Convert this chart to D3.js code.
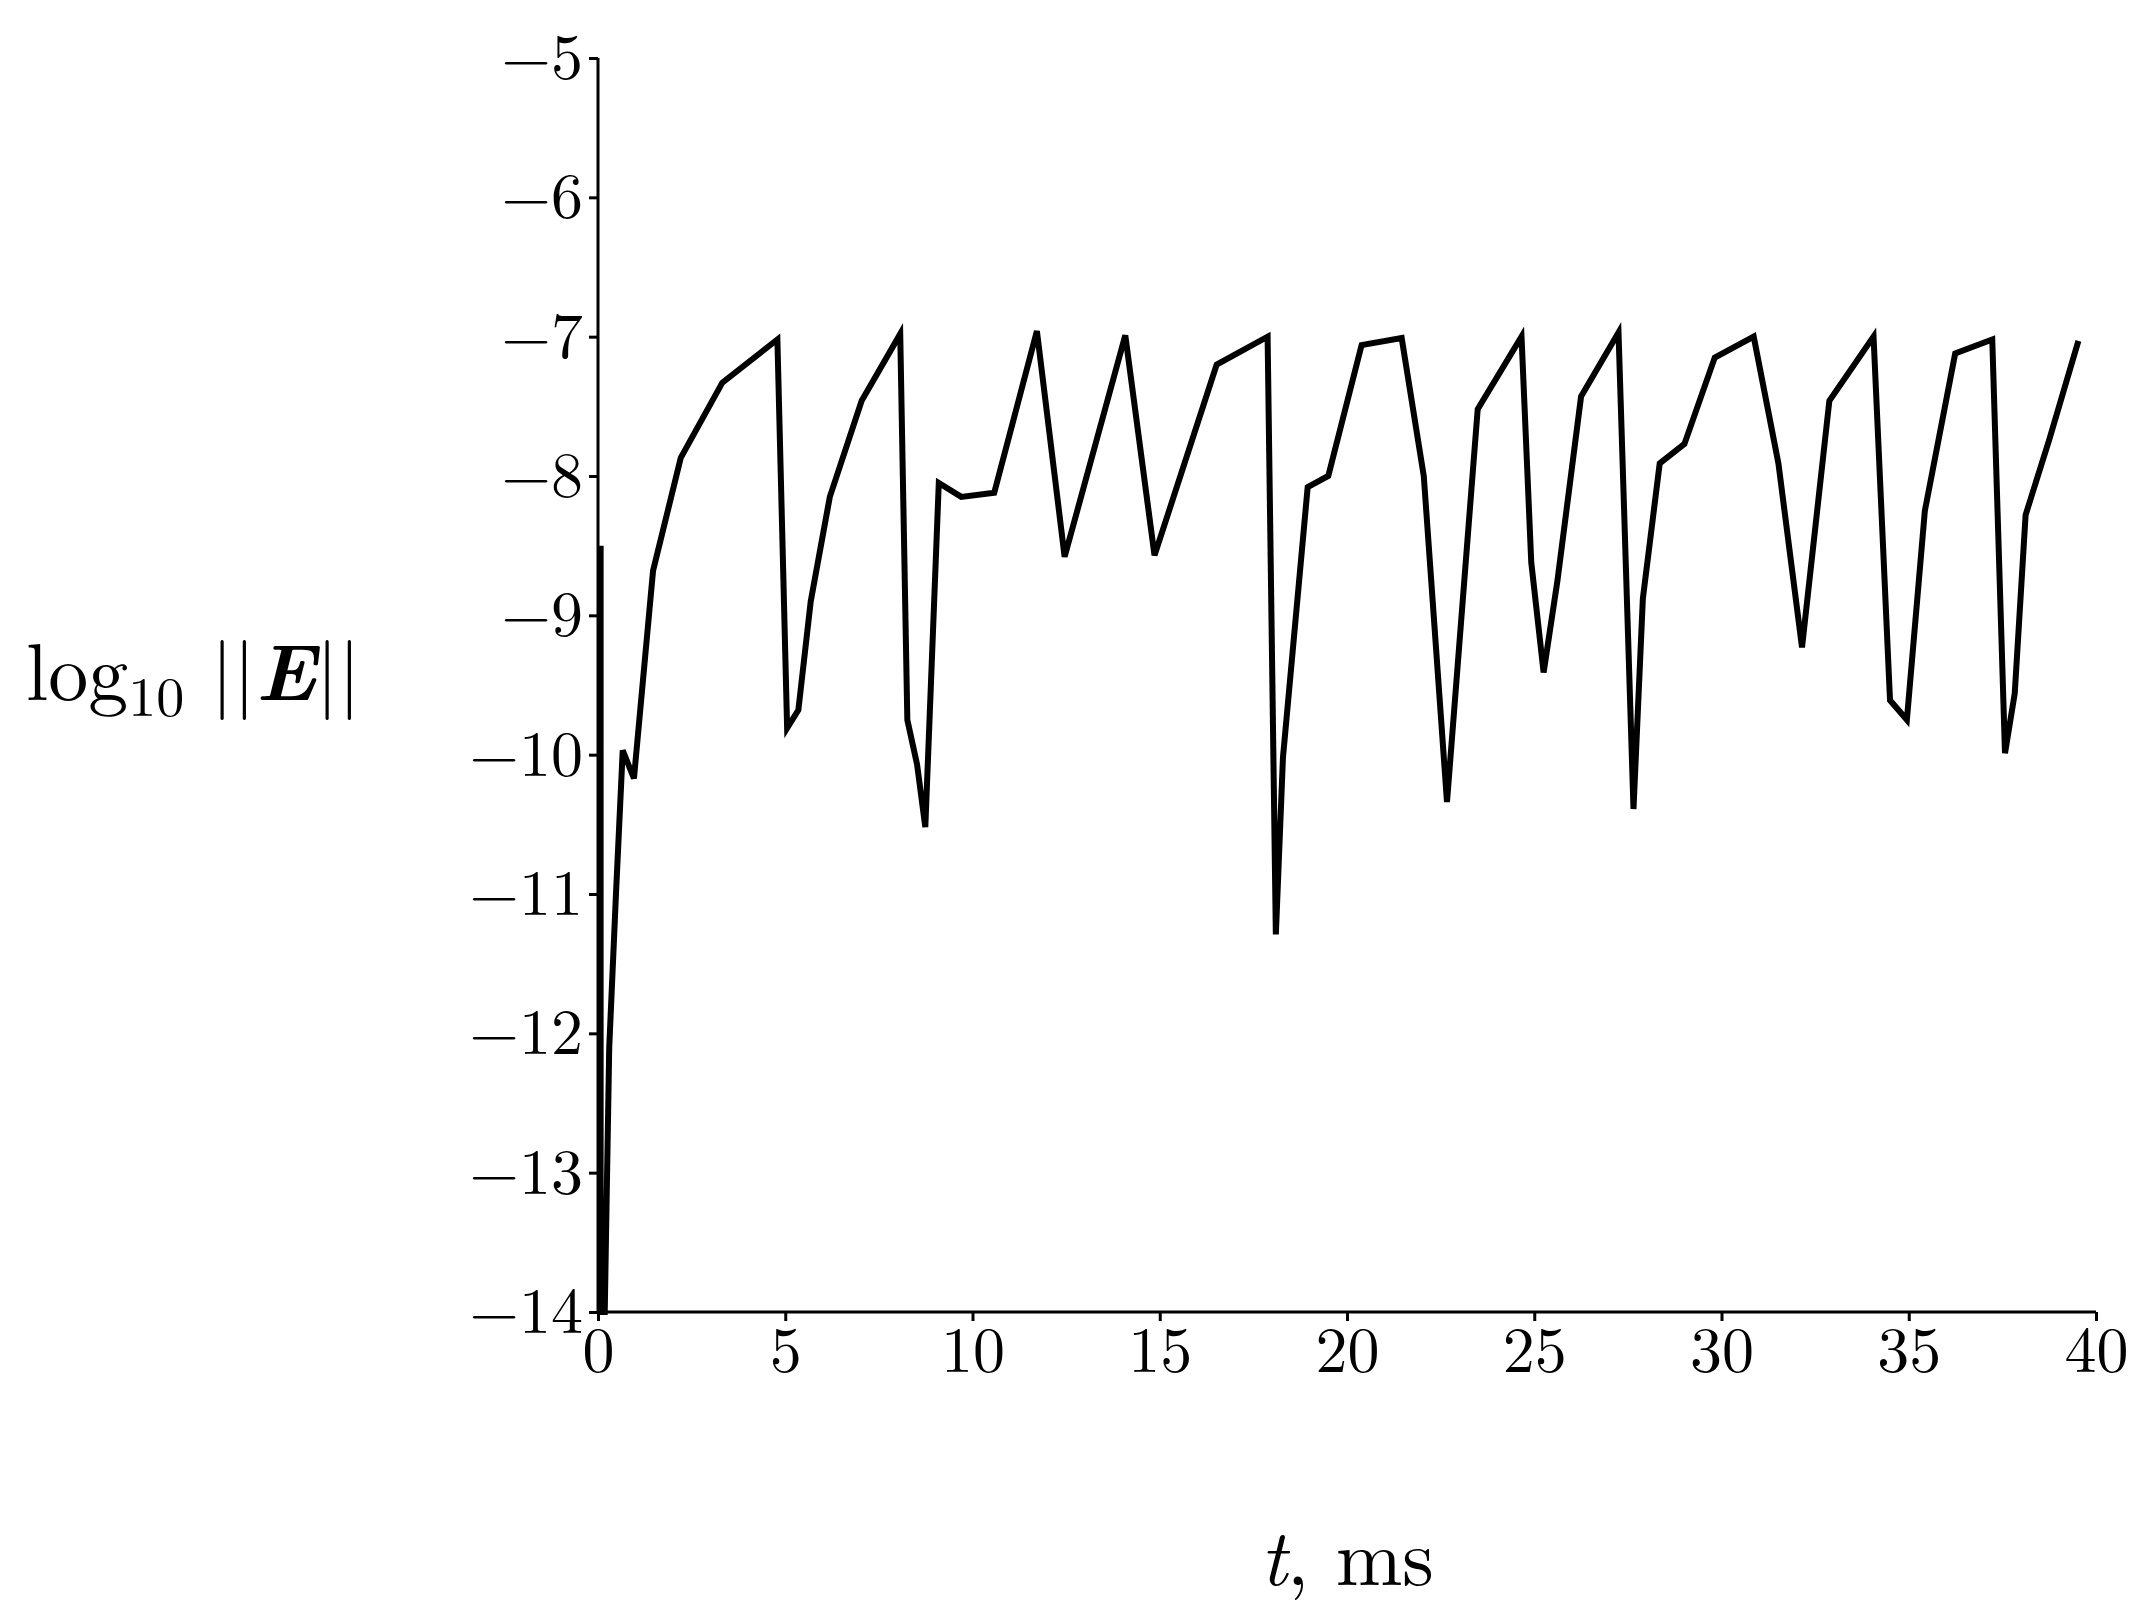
<!DOCTYPE html>
<html><head><meta charset="utf-8">
<script src="https://cdn.jsdelivr.net/npm/d3@7"></script>
<style>body{margin:0;background:#fff}</style></head>
<body><svg id="c" width="2156" height="1624"></svg>
<script>
const tVals=[0.07,0.07,0.18,0.3,0.48,0.66,0.96,1.47,2.21,3.32,4.79,5.05,5.35,5.68,6.19,7.04,8.07,8.26,8.52,8.74,9.1,9.7,10.58,11.72,12.46,14.08,14.86,16.52,17.88,18.1,18.29,18.95,19.5,20.39,21.46,22.05,22.67,23.49,24.66,24.92,25.25,25.62,26.25,27.25,27.65,27.9,28.35,29.01,29.82,30.86,31.52,32.15,32.88,34.06,34.5,34.95,35.43,36.24,37.23,37.57,37.83,38.12,38.75,39.53];
const eVals=[-8.5,-14,-14,-12.1,-11.0,-9.97,-10.17,-8.68,-7.87,-7.33,-7.02,-9.81,-9.68,-8.9,-8.15,-7.46,-6.98,-9.75,-10.07,-10.52,-8.05,-8.15,-8.12,-6.96,-8.58,-6.99,-8.57,-7.2,-7.0,-11.29,-10.02,-8.08,-8.0,-7.06,-7.01,-8.0,-10.34,-7.52,-7.0,-8.62,-9.41,-8.75,-7.43,-6.97,-10.39,-8.88,-7.91,-7.77,-7.15,-7.0,-7.91,-9.23,-7.46,-7.0,-9.61,-9.75,-8.25,-7.12,-7.02,-9.99,-9.56,-8.28,-7.74,-7.03];
const xTicks=[0,5,10,15,20,25,30,35,40];
const yTicks=[-5,-6,-7,-8,-9,-10,-11,-12,-13,-14];
const font='"Latin Modern Roman","CMU Serif","Liberation Serif",serif';
const svg=d3.select('#c');
const x=d3.scaleLinear().domain([0,40]).range([598,2096]);
const y=d3.scaleLinear().domain([-14,-5]).range([1312,58]);
const fmt=d=>d<0?'\u2212'+(-d):''+d;
const gx=svg.append('g').attr('transform','translate(0,1312)').call(d3.axisBottom(x).tickValues(xTicks).tickFormat(fmt).tickSize(9).tickPadding(6));
const gy=svg.append('g').attr('transform','translate(598,0)').call(d3.axisLeft(y).tickValues(yTicks).tickFormat(fmt).tickSize(9).tickPadding(6));
[gx,gy].forEach(g=>{g.selectAll('path,line').attr('stroke','#000').attr('stroke-width',3);
 g.selectAll('text').attr('font-family',font).attr('font-size',64).attr('fill','#000');});
gx.select('.domain').attr('d','M598,0H2096');
gy.select('.domain').attr('d','M0,58V1312');
const pts=tVals.map((t,i)=>[t,eVals[i]]);
svg.append('path').datum(pts).attr('fill','none').attr('stroke','#000').attr('stroke-width',6).attr('stroke-linejoin','miter')
 .attr('d',d3.line().x(d=>x(d[0])).y(d=>y(d[1])));
const yl=svg.append('text').attr('x',26).attr('y',700).attr('font-family',font).attr('font-size',80);
yl.append('tspan').text('log');
yl.append('tspan').attr('font-size',56).attr('dy',16).text('10');
yl.append('tspan').attr('dy',-16).text(' ||');
yl.append('tspan').attr('font-weight','bold').attr('font-style','italic').text('E');
yl.append('tspan').text('||');
const xl=svg.append('text').attr('x',1347).attr('y',1585).attr('text-anchor','middle').attr('font-family',font).attr('font-size',80);
xl.append('tspan').attr('font-style','italic').text('t');
xl.append('tspan').text(', ms');
</script></body></html>
